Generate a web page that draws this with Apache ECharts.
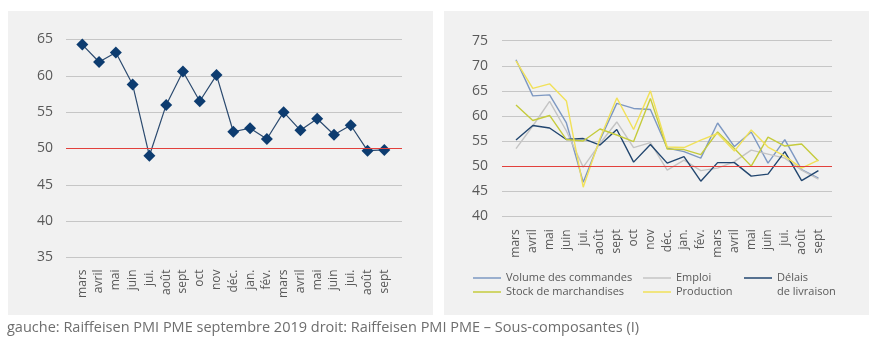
<!DOCTYPE html>
<html>
<head>
<meta charset="utf-8">
<script src="https://cdn.jsdelivr.net/npm/echarts@6/dist/echarts.min.js"></script>
<style>html,body{margin:0;padding:0;background:#fff;}#c{width:877px;height:345px;}</style>
</head>
<body>
<div id="c"></div>
<script>
const months = ['mars','avril','mai','juin','jui.','août','sept','oct','nov','déc.','jan.','fév.','mars','avril','mai','juin','jui.','août','sept'];
const pmi = [64.3, 61.9, 63.2, 58.8, 49.0, 56.0, 60.6, 56.5, 60.1, 52.3, 52.8, 51.3, 55.0, 52.5, 54.1, 51.9, 53.2, 49.7, 49.8];
const volumeCommandes = [71.2, 64.0, 64.2, 58.6, 46.8, 55.2, 62.5, 61.5, 61.3, 53.6, 52.9, 51.6, 58.6, 53.9, 56.8, 50.6, 55.3, 49.3, 47.6];
const emploi = [53.5, 58.0, 62.9, 57.0, 49.8, 54.5, 58.8, 53.7, 54.7, 49.2, 51.2, 49.1, 49.6, 50.9, 53.2, 52.4, 51.6, 49.2, 47.4];
const delais = [55.2, 58.1, 57.6, 55.3, 55.5, 54.2, 57.3, 50.8, 54.3, 50.6, 51.9, 47.0, 50.7, 50.7, 48.0, 48.4, 52.9, 47.1, 49.1];
const stock = [62.2, 59.1, 60.1, 55.3, 55.0, 57.4, 56.2, 54.9, 63.5, 53.4, 53.3, 52.3, 56.8, 53.5, 50.0, 55.8, 54.0, 54.4, 51.0];
const production = [71.0, 65.5, 66.4, 63.0, 45.8, 55.5, 63.6, 57.3, 65.0, 53.8, 53.7, 55.2, 56.5, 53.0, 57.2, 53.8, 52.0, 49.6, 51.2];
const leftTicks = {min: 35, max: 65, step: 5};
const rightTicks = {min: 40, max: 75, step: 5};
const thresholdLine = 50;
const caption = 'gauche: Raiffeisen PMI PME septembre 2019 droit: Raiffeisen PMI PME – Sous-composantes (I)';

const FONT = 'Open Sans';
const TXT = '#595959';
const GRIDC = '#c6c6c6';
const RED = '#e2403c';

const chart = echarts.init(document.getElementById('c'), null, {renderer: 'canvas'});

const rightSeries = [
  {name: 'Volume des commandes', data: volumeCommandes, color: '#7d98c2'},
  {name: 'Emploi', data: emploi, color: '#c4c4c4'},
  {name: 'Délais de livraison', data: delais, color: '#22466f'},
  {name: 'Stock de marchandises', data: stock, color: '#c5cb3c'},
  {name: 'Production', data: production, color: '#f1e159'}
];

const legendPos = [
  {left: 473, top: 271},
  {left: 643, top: 271},
  {left: 744, top: 257},
  {left: 473, top: 285},
  {left: 643, top: 285}
];

function redLine(xi, yi) {
  return {
    type: 'line', xAxisIndex: xi, yAxisIndex: yi, data: [], silent: true,
    markLine: {silent: true, symbol: 'none', animation: false, label: {show: false},
      lineStyle: {color: RED, type: 'solid', width: 1},
      data: [{yAxis: thresholdLine}]}
  };
}

const option = {
  animation: false,
  backgroundColor: '#ffffff',
  textStyle: {fontFamily: FONT},
  graphic: [
    {type: 'rect', z: -10, silent: true, shape: {x: 8, y: 11, width: 425, height: 304}, style: {fill: '#f1f1f1'}},
    {type: 'rect', z: -10, silent: true, shape: {x: 444, y: 11, width: 425, height: 304}, style: {fill: '#f1f1f1'}},
    {type: 'text', left: 7, top: 320, style: {text: caption, fontSize: 14.5, fill: '#6e6e6e', fontFamily: FONT}}
  ],
  grid: [
    {left: 66, top: 39.5, width: 336, height: 218},
    {left: 73.9, top: 39.5, width: 318.8, height: 218},
    {left: 502, top: 40.7, width: 330, height: 175.6},
    {left: 507.6, top: 40.7, width: 319.2, height: 175.6}
  ],
  xAxis: [
    {gridIndex: 0, type: 'value', show: false, min: 0, max: 1},
    {gridIndex: 1, type: 'category', data: months, boundaryGap: true,
      axisLine: {show: false}, axisTick: {show: false},
      axisLabel: {rotate: 90, interval: 0, fontSize: 12, color: TXT, margin: 12, fontFamily: FONT}},
    {gridIndex: 2, type: 'value', show: false, min: 0, max: 1},
    {gridIndex: 3, type: 'category', data: months, boundaryGap: true,
      axisLine: {show: false}, axisTick: {show: false},
      axisLabel: {rotate: 90, interval: 0, fontSize: 12, color: TXT, margin: 13, fontFamily: FONT}}
  ],
  yAxis: [
    {gridIndex: 0, type: 'value', min: leftTicks.min, max: leftTicks.max, interval: leftTicks.step,
      axisLine: {show: false}, axisTick: {show: false},
      axisLabel: {fontSize: 14, color: TXT, margin: 13, fontFamily: FONT},
      splitLine: {show: true, lineStyle: {color: GRIDC, width: 1}}},
    {gridIndex: 1, type: 'value', min: leftTicks.min, max: leftTicks.max, show: false, splitLine: {show: false}},
    {gridIndex: 2, type: 'value', min: rightTicks.min, max: rightTicks.max, interval: rightTicks.step,
      axisLine: {show: false}, axisTick: {show: false},
      axisLabel: {fontSize: 14, color: TXT, margin: 14, fontFamily: FONT},
      splitLine: {show: true, lineStyle: {color: GRIDC, width: 1}}},
    {gridIndex: 3, type: 'value', min: rightTicks.min, max: rightTicks.max, show: false, splitLine: {show: false}}
  ],
  legend: rightSeries.map((s, i) => ({
    data: [s.name],
    left: legendPos[i].left,
    top: legendPos[i].top,
    orient: 'horizontal',
    icon: 'rect',
    itemWidth: 28,
    itemHeight: 1.5,
    itemGap: 0,
    padding: 0,
    selectedMode: false,
    formatter: s.name === 'Délais de livraison' ? ' \nDélais\nde livraison' : '{name}',
    textStyle: {fontSize: 11, color: TXT, fontFamily: FONT, lineHeight: 14}
  })),
  series: [
    redLine(0, 0),
    redLine(2, 2),
    {type: 'line', name: 'PMI', xAxisIndex: 1, yAxisIndex: 1, data: pmi,
      symbol: 'diamond', symbolSize: 12,
      itemStyle: {color: '#0d3c70'},
      lineStyle: {color: '#2b4a6f', width: 1.2}},
    ...rightSeries.map(s => ({
      type: 'line', name: s.name, xAxisIndex: 3, yAxisIndex: 3, data: s.data,
      symbol: 'none', showSymbol: false,
      itemStyle: {color: s.color},
      lineStyle: {color: s.color, width: 1.4}
    }))
  ]
};
chart.setOption(option);
</script>
</body>
</html>
